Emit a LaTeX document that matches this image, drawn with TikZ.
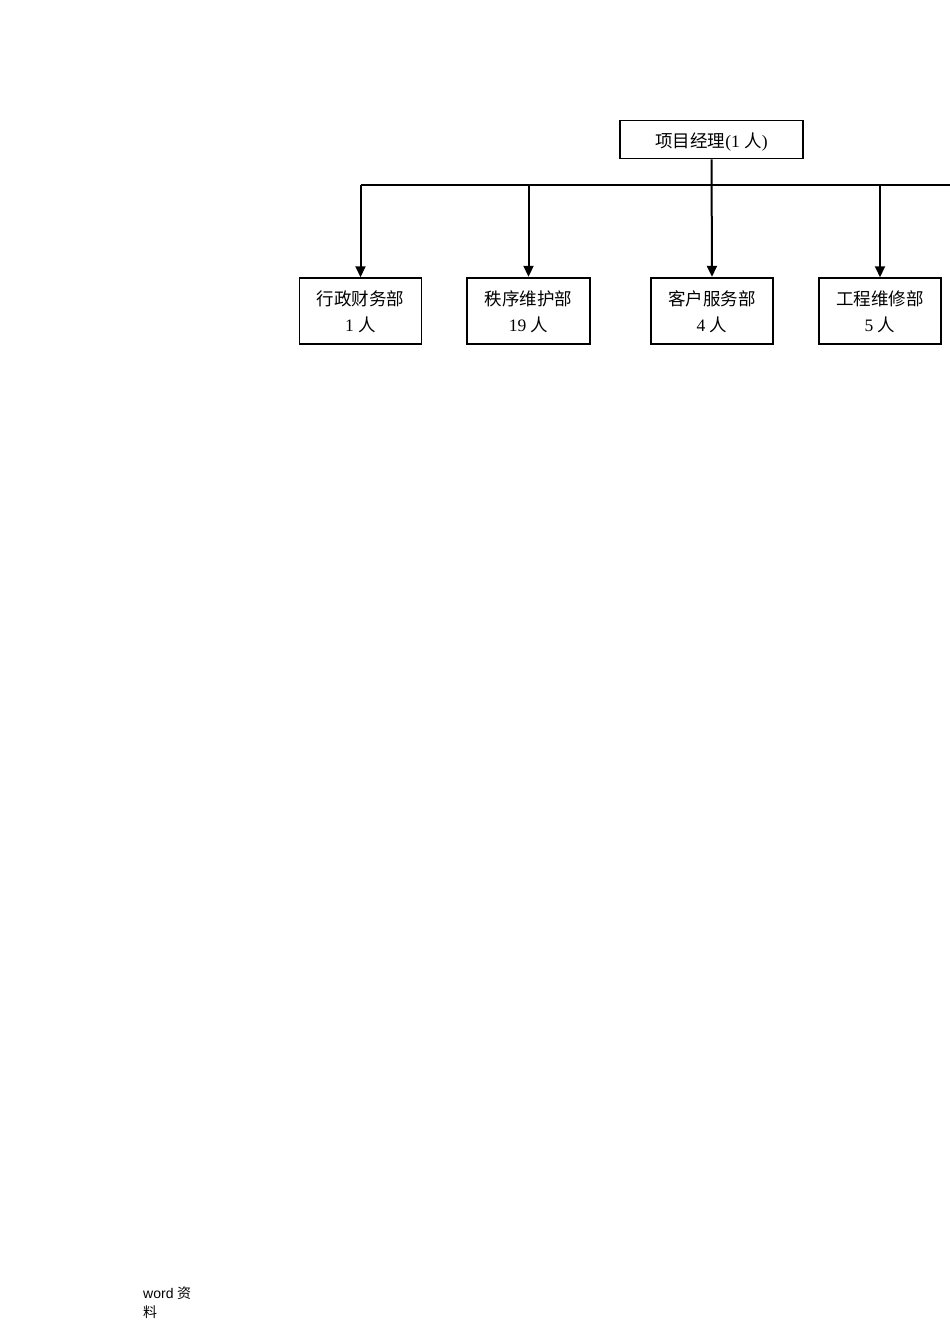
\documentclass[tikz,border=0pt]{standalone}
\usepackage{fontspec}
\setmainfont{Liberation Serif}
\newfontfamily\cjk{Noto Sans CJK SC}
\newfontfamily\wsans{Liberation Sans}
\usetikzlibrary{arrows.meta}
\newcommand\dnshift[2]{\raisebox{-#1}[\height][\depth]{#2}}
\newcommand\twolines[2]{\dnshift{2pt}{\begin{tabular}{@{}c@{}}#1\\#2\end{tabular}}}
\begin{document}
\begin{tikzpicture}[x=1pt,y=-1pt,
  box/.style={draw, line width=1.5pt, minimum width=#1, minimum height=66pt, inner sep=0pt, align=center, font=\fontsize{17.5}{26}\selectfont},
  box/.default=122pt,
  thickbox/.style={box=#1, line width=2.4pt},
  topbox/.style={draw, line width=1.8pt, minimum width=183pt, minimum height=38pt, inner sep=0pt, font=\fontsize{17.5}{20}\selectfont},
  conn/.style={line width=2pt, -{Triangle[length=11pt,width=10pt]}},
  hline/.style={line width=1.5pt}]
\useasboundingbox (0,0) rectangle (950,1344);
\fill[white] (0,0) rectangle (950,1344);
\node[topbox] (pm) at (711.5,139.5) {\dnshift{3pt}{{\cjk 项目经理}(1 {\cjk 人})}};
\node[box=122pt] (d1) at (360.5,311) {\twolines{{\cjk 行政财务部}}{1 {\cjk 人}}};
\node[thickbox=123pt] (d2) at (528.5,311) {\twolines{{\cjk 秩序维护部}}{19 {\cjk 人}}};
\node[thickbox=122pt] (d3) at (712,311) {\twolines{{\cjk 客户服务部}}{4 {\cjk 人}}};
\node[box=122pt] (d4) at (880,311) {\twolines{{\cjk 工程维修部}}{5 {\cjk 人}}};
\coordinate (bl) at (360.5,185);
\coordinate (br) at (950,185);
\draw[hline] (bl) -- (br);
\draw[conn] (pm.south) -- (d3.north);
\draw[conn] (bl) -- (d1.north);
\draw[conn] (d2.north |- bl) -- (d2.north);
\draw[conn] (d4.north |- bl) -- (d4.north);
\node[anchor=north west, inner sep=0pt, align=left, font=\fontsize{14}{19}\selectfont] (foot) at (143,1287) {{\wsans word} {\cjk 资}\\{\cjk 料}};
\end{tikzpicture}
\end{document}
